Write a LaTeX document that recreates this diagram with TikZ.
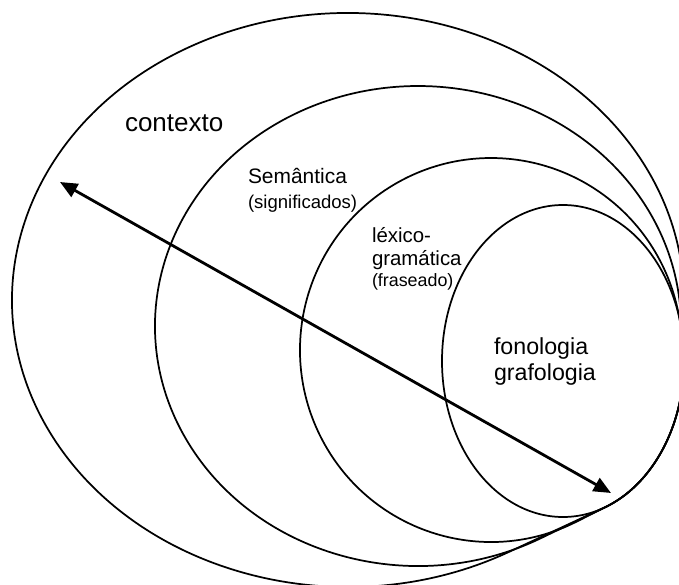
\documentclass[tikz,border=0pt]{standalone}
\usepackage{fontspec}
\setmainfont{Liberation Sans}
\usetikzlibrary{arrows.meta,calc}
\begin{document}
\begin{tikzpicture}[x=0.75pt,y=-0.75pt,
  ring/.style={draw=black, line width=1.3pt, line join=round},
  lbl/.style={anchor=base west, inner sep=0pt, outer sep=0pt, align=left},
  dbl/.style={line width=2.1pt, {Triangle[length=13pt,width=11pt]}-{Triangle[length=13pt,width=11pt]}}]
\useasboundingbox (0,0) rectangle (679,585);
\coordinate (c1) at (348,300);
\coordinate (c2) at (418,326);
\coordinate (c3) at (491,350);
\coordinate (c4) at (563,361);
\begin{scope}
\clip (0,0) rectangle (679,585);
% contexto
\draw[ring] (c1) ++({336*cos(61.5)},{287*sin(61.5)})
  arc[start angle=61.5, end angle=360, x radius=336, y radius=287]
  -- ($(c4)+(121,0)$)
  arc[start angle=0, end angle=70.2, x radius=121, y radius=156] -- cycle;
% semantica
\draw[ring] (c2) ++({263*cos(62.1)},{240*sin(62.1)})
  arc[start angle=62.1, end angle=355.4, x radius=263, y radius=240]
  -- ($(c4)+({121*cos(-6.4)},{156*sin(-6.4)})$)
  arc[start angle=-6.4, end angle=69.4, x radius=121, y radius=156] -- cycle;
% lexico-gramatica
\draw[ring] (c3) ++({191*cos(63.3)},{192*sin(63.3)})
  arc[start angle=63.3, end angle=349.1, x radius=191, y radius=192]
  -- ($(c4)+({121*cos(-13.8)},{156*sin(-13.8)})$)
  arc[start angle=-13.8, end angle=68.5, x radius=121, y radius=156] -- cycle;
% fonologia
\draw[ring] (c4) ellipse (121 and 156);
\end{scope}
\node[lbl, font=\fontsize{19.5pt}{23pt}\selectfont] (ctx) at (125,132) {contexto};
\node[lbl, font=\fontsize{15.7pt}{18pt}\selectfont] (sem) at (248,183) {Semântica};
\node[lbl, font=\fontsize{13.9pt}{16pt}\selectfont] (sig) at (248,209) {(significados)};
\node[lbl, font=\fontsize{15.3pt}{18pt}\selectfont] (lex) at (372,243) {léxico-};
\node[lbl, font=\fontsize{15.3pt}{18pt}\selectfont] (gra) at (372,265) {gramática};
\node[lbl, font=\fontsize{13.4pt}{16pt}\selectfont] (fra) at (372,286) {(fraseado)};
\node[lbl, font=\fontsize{17.4pt}{20pt}\selectfont] (fon) at (494,354) {fonologia};
\node[lbl, font=\fontsize{17.4pt}{20pt}\selectfont] (graf) at (494,380) {grafologia};
\coordinate (tipL) at (60,182);
\coordinate (tipR) at (611,493);
\draw[dbl] (tipL) -- (tipR);
\end{tikzpicture}
\end{document}
